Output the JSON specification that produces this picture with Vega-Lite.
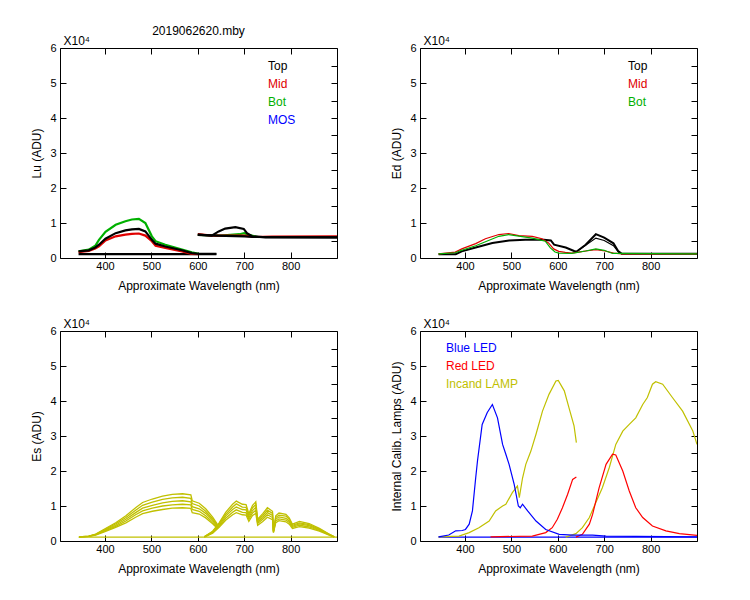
{
  "$schema": "https://vega.github.io/schema/vega-lite/v6.json",
  "background": "white",
  "padding": {"left": 30, "top": 24, "right": 5, "bottom": 5},
  "config": {
    "font": "Liberation Sans",
    "view": {"stroke": "black", "strokeWidth": 1},
    "axis": {"grid": false, "domain": false, "tickColor": "black", "tickWidth": 1, "labelColor": "black", "titleColor": "black", "labelFontSize": 11, "titleFontSize": 12, "titleFontWeight": "normal", "labelFont": "Liberation Sans", "titleFont": "Liberation Sans", "labelOverlap": false, "labelFlush": false},
    "legend": {"orient": "none", "title": null, "symbolSize": 0, "symbolStrokeWidth": 0, "symbolOpacity": 0, "labelOffset": 0, "labelFontSize": 12, "rowPadding": 6, "padding": 0, "labelFont": "Liberation Sans"},
    "title": {"fontSize": 12, "fontWeight": "normal", "font": "Liberation Sans", "color": "black"}
  },
  "datasets": {
    "lu": [
      {"w":343,"v":0.11,"s":"Top","k":"tb"},{"w":640,"v":0.11,"s":"Top","k":"tb"},
      {"w":343,"v":0.19,"s":"Bot","k":"b1"},{"w":365,"v":0.24,"s":"Bot","k":"b1"},{"w":379,"v":0.35,"s":"Bot","k":"b1"},{"w":387,"v":0.52,"s":"Bot","k":"b1"},{"w":401,"v":0.75,"s":"Bot","k":"b1"},{"w":423,"v":0.95,"s":"Bot","k":"b1"},{"w":444,"v":1.05,"s":"Bot","k":"b1"},{"w":458,"v":1.1,"s":"Bot","k":"b1"},{"w":473,"v":1.12,"s":"Bot","k":"b1"},{"w":487,"v":1.0,"s":"Bot","k":"b1"},{"w":501,"v":0.62,"s":"Bot","k":"b1"},{"w":509,"v":0.48,"s":"Bot","k":"b1"},{"w":530,"v":0.38,"s":"Bot","k":"b1"},{"w":566,"v":0.24,"s":"Bot","k":"b1"},{"w":587,"v":0.16,"s":"Bot","k":"b1"},{"w":602,"v":0.12,"s":"Bot","k":"b1"},
      {"w":343,"v":0.17,"s":"Mid","k":"m1"},{"w":365,"v":0.2,"s":"Mid","k":"m1"},{"w":379,"v":0.27,"s":"Mid","k":"m1"},{"w":387,"v":0.33,"s":"Mid","k":"m1"},{"w":401,"v":0.5,"s":"Mid","k":"m1"},{"w":423,"v":0.62,"s":"Mid","k":"m1"},{"w":444,"v":0.67,"s":"Mid","k":"m1"},{"w":458,"v":0.69,"s":"Mid","k":"m1"},{"w":473,"v":0.7,"s":"Mid","k":"m1"},{"w":487,"v":0.64,"s":"Mid","k":"m1"},{"w":501,"v":0.48,"s":"Mid","k":"m1"},{"w":509,"v":0.35,"s":"Mid","k":"m1"},{"w":530,"v":0.29,"s":"Mid","k":"m1"},{"w":566,"v":0.19,"s":"Mid","k":"m1"},{"w":587,"v":0.12,"s":"Mid","k":"m1"},{"w":602,"v":0.11,"s":"Mid","k":"m1"},
      {"w":343,"v":0.19,"s":"Top","k":"t1"},{"w":365,"v":0.22,"s":"Top","k":"t1"},{"w":379,"v":0.3,"s":"Top","k":"t1"},{"w":387,"v":0.38,"s":"Top","k":"t1"},{"w":401,"v":0.55,"s":"Top","k":"t1"},{"w":423,"v":0.71,"s":"Top","k":"t1"},{"w":444,"v":0.79,"s":"Top","k":"t1"},{"w":458,"v":0.82,"s":"Top","k":"t1"},{"w":473,"v":0.83,"s":"Top","k":"t1"},{"w":487,"v":0.76,"s":"Top","k":"t1"},{"w":501,"v":0.52,"s":"Top","k":"t1"},{"w":509,"v":0.41,"s":"Top","k":"t1"},{"w":530,"v":0.33,"s":"Top","k":"t1"},{"w":566,"v":0.22,"s":"Top","k":"t1"},{"w":587,"v":0.14,"s":"Top","k":"t1"},{"w":602,"v":0.12,"s":"Top","k":"t1"},{"w":640,"v":0.12,"s":"Top","k":"t1"},
      {"w":600,"v":0.66,"s":"Bot","k":"b2"},{"w":650,"v":0.64,"s":"Bot","k":"b2"},{"w":690,"v":0.68,"s":"Bot","k":"b2"},{"w":700,"v":0.71,"s":"Bot","k":"b2"},{"w":710,"v":0.66,"s":"Bot","k":"b2"},{"w":730,"v":0.6,"s":"Bot","k":"b2"},{"w":900,"v":0.6,"s":"Bot","k":"b2"},
      {"w":600,"v":0.68,"s":"Mid","k":"m2"},{"w":630,"v":0.64,"s":"Mid","k":"m2"},{"w":700,"v":0.64,"s":"Mid","k":"m2"},{"w":720,"v":0.6,"s":"Mid","k":"m2"},{"w":760,"v":0.61,"s":"Mid","k":"m2"},{"w":900,"v":0.62,"s":"Mid","k":"m2"},
      {"w":600,"v":0.66,"s":"Top","k":"t3"},{"w":640,"v":0.64,"s":"Top","k":"t3"},{"w":700,"v":0.62,"s":"Top","k":"t3"},{"w":720,"v":0.6,"s":"Top","k":"t3"},{"w":900,"v":0.59,"s":"Top","k":"t3"},
      {"w":600,"v":0.67,"s":"Top","k":"t2"},{"w":630,"v":0.64,"s":"Top","k":"t2"},{"w":645,"v":0.76,"s":"Top","k":"t2"},{"w":659,"v":0.84,"s":"Top","k":"t2"},{"w":681,"v":0.88,"s":"Top","k":"t2"},{"w":699,"v":0.83,"s":"Top","k":"t2"},{"w":706,"v":0.71,"s":"Top","k":"t2"},{"w":717,"v":0.62,"s":"Top","k":"t2"},{"w":746,"v":0.59,"s":"Top","k":"t2"},{"w":900,"v":0.59,"s":"Top","k":"t2"}
    ],
    "ed": [
      {"w":343,"v":0.11,"s":"Top","k":"t1"},{"w":380,"v":0.11,"s":"Top","k":"t1"},{"w":393,"v":0.19,"s":"Top","k":"t1"},{"w":423,"v":0.3,"s":"Top","k":"t1"},{"w":459,"v":0.43,"s":"Top","k":"t1"},{"w":495,"v":0.5,"s":"Top","k":"t1"},{"w":530,"v":0.52,"s":"Top","k":"t1"},{"w":570,"v":0.52,"s":"Top","k":"t1"},{"w":585,"v":0.5,"s":"Top","k":"t1"},{"w":592,"v":0.38,"s":"Top","k":"t1"},{"w":617,"v":0.3,"s":"Top","k":"t1"},{"w":635,"v":0.2,"s":"Top","k":"t1"},{"w":640,"v":0.18,"s":"Top","k":"t1"},{"w":660,"v":0.38,"s":"Top","k":"t1"},{"w":682,"v":0.68,"s":"Top","k":"t1"},{"w":700,"v":0.58,"s":"Top","k":"t1"},{"w":720,"v":0.42,"s":"Top","k":"t1"},{"w":730,"v":0.2,"s":"Top","k":"t1"},{"w":738,"v":0.12,"s":"Top","k":"t1"},{"w":900,"v":0.12,"s":"Top","k":"t1"},
      {"w":640,"v":0.18,"s":"Top","k":"t2"},{"w":682,"v":0.57,"s":"Top","k":"t2"},{"w":700,"v":0.5,"s":"Top","k":"t2"},{"w":720,"v":0.35,"s":"Top","k":"t2"},{"w":732,"v":0.15,"s":"Top","k":"t2"},{"w":738,"v":0.12,"s":"Top","k":"t2"},
      {"w":343,"v":0.12,"s":"Mid","k":"m1"},{"w":379,"v":0.17,"s":"Mid","k":"m1"},{"w":393,"v":0.26,"s":"Mid","k":"m1"},{"w":423,"v":0.41,"s":"Mid","k":"m1"},{"w":444,"v":0.55,"s":"Mid","k":"m1"},{"w":473,"v":0.67,"s":"Mid","k":"m1"},{"w":494,"v":0.7,"s":"Mid","k":"m1"},{"w":516,"v":0.64,"s":"Mid","k":"m1"},{"w":545,"v":0.62,"s":"Mid","k":"m1"},{"w":566,"v":0.55,"s":"Mid","k":"m1"},{"w":580,"v":0.43,"s":"Mid","k":"m1"},{"w":591,"v":0.26,"s":"Mid","k":"m1"},{"w":602,"v":0.19,"s":"Mid","k":"m1"},{"w":616,"v":0.16,"s":"Mid","k":"m1"},{"w":630,"v":0.14,"s":"Mid","k":"m1"},{"w":645,"v":0.17,"s":"Mid","k":"m1"},{"w":660,"v":0.2,"s":"Mid","k":"m1"},{"w":682,"v":0.24,"s":"Mid","k":"m1"},{"w":702,"v":0.2,"s":"Mid","k":"m1"},{"w":720,"v":0.14,"s":"Mid","k":"m1"},{"w":740,"v":0.12,"s":"Mid","k":"m1"},{"w":900,"v":0.12,"s":"Mid","k":"m1"},
      {"w":343,"v":0.12,"s":"Bot","k":"b1"},{"w":379,"v":0.15,"s":"Bot","k":"b1"},{"w":393,"v":0.22,"s":"Bot","k":"b1"},{"w":423,"v":0.35,"s":"Bot","k":"b1"},{"w":473,"v":0.62,"s":"Bot","k":"b1"},{"w":494,"v":0.67,"s":"Bot","k":"b1"},{"w":545,"v":0.57,"s":"Bot","k":"b1"},{"w":573,"v":0.48,"s":"Bot","k":"b1"},{"w":584,"v":0.29,"s":"Bot","k":"b1"},{"w":594,"v":0.17,"s":"Bot","k":"b1"},{"w":602,"v":0.14,"s":"Bot","k":"b1"},{"w":630,"v":0.13,"s":"Bot","k":"b1"},{"w":660,"v":0.2,"s":"Bot","k":"b1"},{"w":682,"v":0.26,"s":"Bot","k":"b1"},{"w":700,"v":0.22,"s":"Bot","k":"b1"},{"w":718,"v":0.13,"s":"Bot","k":"b1"},{"w":900,"v":0.12,"s":"Bot","k":"b1"}
    ],
    "es": [
      {"w":343,"v":0.11,"k":"base"},{"w":900,"v":0.11,"k":"base"},
      {"w":344,"v":0.12,"k":"a1"},{"w":365,"v":0.14,"k":"a1"},{"w":380,"v":0.2,"k":"a1"},{"w":400,"v":0.35,"k":"a1"},{"w":423,"v":0.52,"k":"a1"},{"w":445,"v":0.72,"k":"a1"},{"w":466,"v":0.95,"k":"a1"},{"w":481,"v":1.1,"k":"a1"},{"w":502,"v":1.2,"k":"a1"},{"w":524,"v":1.28,"k":"a1"},{"w":545,"v":1.33,"k":"a1"},{"w":567,"v":1.35,"k":"a1"},{"w":585,"v":1.32,"k":"a1"},{"w":588,"v":1.15,"k":"a1"},{"w":603,"v":1.08,"k":"a1"},{"w":617,"v":0.92,"k":"a1"},{"w":632,"v":0.68,"k":"a1"},{"w":642,"v":0.48,"k":"a1"},
      {"w":344,"v":0.12,"k":"a2"},{"w":365,"v":0.14,"k":"a2"},{"w":380,"v":0.19,"k":"a2"},{"w":400,"v":0.33,"k":"a2"},{"w":423,"v":0.49,"k":"a2"},{"w":445,"v":0.67,"k":"a2"},{"w":466,"v":0.88,"k":"a2"},{"w":481,"v":1.02,"k":"a2"},{"w":502,"v":1.11,"k":"a2"},{"w":524,"v":1.19,"k":"a2"},{"w":545,"v":1.23,"k":"a2"},{"w":567,"v":1.25,"k":"a2"},{"w":585,"v":1.22,"k":"a2"},{"w":588,"v":1.07,"k":"a2"},{"w":603,"v":1.0,"k":"a2"},{"w":617,"v":0.85,"k":"a2"},{"w":632,"v":0.63,"k":"a2"},{"w":642,"v":0.45,"k":"a2"},
      {"w":344,"v":0.12,"k":"a3"},{"w":365,"v":0.13,"k":"a3"},{"w":380,"v":0.18,"k":"a3"},{"w":400,"v":0.31,"k":"a3"},{"w":423,"v":0.45,"k":"a3"},{"w":445,"v":0.62,"k":"a3"},{"w":466,"v":0.81,"k":"a3"},{"w":481,"v":0.94,"k":"a3"},{"w":502,"v":1.02,"k":"a3"},{"w":524,"v":1.09,"k":"a3"},{"w":545,"v":1.13,"k":"a3"},{"w":567,"v":1.15,"k":"a3"},{"w":585,"v":1.12,"k":"a3"},{"w":588,"v":0.98,"k":"a3"},{"w":603,"v":0.92,"k":"a3"},{"w":617,"v":0.79,"k":"a3"},{"w":632,"v":0.59,"k":"a3"},{"w":642,"v":0.42,"k":"a3"},
      {"w":344,"v":0.12,"k":"a4"},{"w":365,"v":0.13,"k":"a4"},{"w":380,"v":0.18,"k":"a4"},{"w":400,"v":0.29,"k":"a4"},{"w":423,"v":0.42,"k":"a4"},{"w":445,"v":0.57,"k":"a4"},{"w":466,"v":0.75,"k":"a4"},{"w":481,"v":0.86,"k":"a4"},{"w":502,"v":0.94,"k":"a4"},{"w":524,"v":1.0,"k":"a4"},{"w":545,"v":1.03,"k":"a4"},{"w":567,"v":1.05,"k":"a4"},{"w":585,"v":1.03,"k":"a4"},{"w":588,"v":0.9,"k":"a4"},{"w":603,"v":0.85,"k":"a4"},{"w":617,"v":0.72,"k":"a4"},{"w":632,"v":0.54,"k":"a4"},{"w":642,"v":0.39,"k":"a4"},
      {"w":344,"v":0.11,"k":"a5"},{"w":365,"v":0.13,"k":"a5"},{"w":380,"v":0.17,"k":"a5"},{"w":400,"v":0.27,"k":"a5"},{"w":423,"v":0.39,"k":"a5"},{"w":445,"v":0.52,"k":"a5"},{"w":466,"v":0.68,"k":"a5"},{"w":481,"v":0.78,"k":"a5"},{"w":502,"v":0.85,"k":"a5"},{"w":524,"v":0.9,"k":"a5"},{"w":545,"v":0.94,"k":"a5"},{"w":567,"v":0.95,"k":"a5"},{"w":585,"v":0.93,"k":"a5"},{"w":588,"v":0.81,"k":"a5"},{"w":603,"v":0.77,"k":"a5"},{"w":617,"v":0.66,"k":"a5"},{"w":632,"v":0.49,"k":"a5"},{"w":642,"v":0.36,"k":"a5"},
      {"w":614,"v":0.12,"k":"c1"},{"w":632,"v":0.28,"k":"c1"},{"w":646,"v":0.52,"k":"c1"},{"w":660,"v":0.82,"k":"c1"},{"w":675,"v":1.05,"k":"c1"},{"w":683,"v":1.14,"k":"c1"},{"w":696,"v":1.05,"k":"c1"},{"w":704,"v":1.04,"k":"c1"},{"w":710,"v":0.78,"k":"c1"},{"w":718,"v":1.02,"k":"c1"},{"w":725,"v":1.12,"k":"c1"},{"w":729,"v":0.62,"k":"c1"},{"w":740,"v":0.78,"k":"c1"},{"w":750,"v":0.95,"k":"c1"},{"w":761,"v":0.85,"k":"c1"},{"w":763,"v":0.3,"k":"c1"},{"w":768,"v":0.72,"k":"c1"},{"w":775,"v":0.8,"k":"c1"},{"w":790,"v":0.76,"k":"c1"},{"w":797,"v":0.66,"k":"c1"},{"w":804,"v":0.48,"k":"c1"},{"w":819,"v":0.56,"k":"c1"},{"w":840,"v":0.5,"k":"c1"},{"w":862,"v":0.36,"k":"c1"},{"w":883,"v":0.2,"k":"c1"},{"w":894,"v":0.12,"k":"c1"},
      {"w":614,"v":0.12,"k":"c2"},{"w":632,"v":0.27,"k":"c2"},{"w":646,"v":0.49,"k":"c2"},{"w":660,"v":0.76,"k":"c2"},{"w":675,"v":0.97,"k":"c2"},{"w":683,"v":1.06,"k":"c2"},{"w":696,"v":0.97,"k":"c2"},{"w":704,"v":0.96,"k":"c2"},{"w":710,"v":0.73,"k":"c2"},{"w":718,"v":0.95,"k":"c2"},{"w":725,"v":1.04,"k":"c2"},{"w":729,"v":0.58,"k":"c2"},{"w":740,"v":0.73,"k":"c2"},{"w":750,"v":0.88,"k":"c2"},{"w":761,"v":0.79,"k":"c2"},{"w":763,"v":0.28,"k":"c2"},{"w":768,"v":0.67,"k":"c2"},{"w":775,"v":0.74,"k":"c2"},{"w":790,"v":0.71,"k":"c2"},{"w":797,"v":0.62,"k":"c2"},{"w":804,"v":0.45,"k":"c2"},{"w":819,"v":0.52,"k":"c2"},{"w":840,"v":0.47,"k":"c2"},{"w":862,"v":0.34,"k":"c2"},{"w":883,"v":0.19,"k":"c2"},{"w":894,"v":0.12,"k":"c2"},
      {"w":614,"v":0.12,"k":"c3"},{"w":632,"v":0.25,"k":"c3"},{"w":646,"v":0.45,"k":"c3"},{"w":660,"v":0.71,"k":"c3"},{"w":675,"v":0.9,"k":"c3"},{"w":683,"v":0.97,"k":"c3"},{"w":696,"v":0.9,"k":"c3"},{"w":704,"v":0.89,"k":"c3"},{"w":710,"v":0.67,"k":"c3"},{"w":718,"v":0.87,"k":"c3"},{"w":725,"v":0.96,"k":"c3"},{"w":729,"v":0.54,"k":"c3"},{"w":740,"v":0.67,"k":"c3"},{"w":750,"v":0.81,"k":"c3"},{"w":761,"v":0.73,"k":"c3"},{"w":763,"v":0.27,"k":"c3"},{"w":768,"v":0.62,"k":"c3"},{"w":775,"v":0.69,"k":"c3"},{"w":790,"v":0.65,"k":"c3"},{"w":797,"v":0.57,"k":"c3"},{"w":804,"v":0.42,"k":"c3"},{"w":819,"v":0.49,"k":"c3"},{"w":840,"v":0.44,"k":"c3"},{"w":862,"v":0.32,"k":"c3"},{"w":883,"v":0.18,"k":"c3"},{"w":894,"v":0.12,"k":"c3"},
      {"w":614,"v":0.12,"k":"c4"},{"w":632,"v":0.24,"k":"c4"},{"w":646,"v":0.42,"k":"c4"},{"w":660,"v":0.65,"k":"c4"},{"w":675,"v":0.82,"k":"c4"},{"w":683,"v":0.89,"k":"c4"},{"w":696,"v":0.82,"k":"c4"},{"w":704,"v":0.81,"k":"c4"},{"w":710,"v":0.62,"k":"c4"},{"w":718,"v":0.8,"k":"c4"},{"w":725,"v":0.88,"k":"c4"},{"w":729,"v":0.5,"k":"c4"},{"w":740,"v":0.62,"k":"c4"},{"w":750,"v":0.75,"k":"c4"},{"w":761,"v":0.67,"k":"c4"},{"w":763,"v":0.25,"k":"c4"},{"w":768,"v":0.57,"k":"c4"},{"w":775,"v":0.63,"k":"c4"},{"w":790,"v":0.6,"k":"c4"},{"w":797,"v":0.53,"k":"c4"},{"w":804,"v":0.39,"k":"c4"},{"w":819,"v":0.45,"k":"c4"},{"w":840,"v":0.4,"k":"c4"},{"w":862,"v":0.3,"k":"c4"},{"w":883,"v":0.18,"k":"c4"},{"w":894,"v":0.12,"k":"c4"},
      {"w":614,"v":0.11,"k":"c5"},{"w":632,"v":0.22,"k":"c5"},{"w":646,"v":0.39,"k":"c5"},{"w":660,"v":0.59,"k":"c5"},{"w":675,"v":0.75,"k":"c5"},{"w":683,"v":0.81,"k":"c5"},{"w":696,"v":0.75,"k":"c5"},{"w":704,"v":0.74,"k":"c5"},{"w":710,"v":0.56,"k":"c5"},{"w":718,"v":0.73,"k":"c5"},{"w":725,"v":0.79,"k":"c5"},{"w":729,"v":0.45,"k":"c5"},{"w":740,"v":0.56,"k":"c5"},{"w":750,"v":0.68,"k":"c5"},{"w":761,"v":0.61,"k":"c5"},{"w":763,"v":0.24,"k":"c5"},{"w":768,"v":0.52,"k":"c5"},{"w":775,"v":0.58,"k":"c5"},{"w":790,"v":0.55,"k":"c5"},{"w":797,"v":0.48,"k":"c5"},{"w":804,"v":0.36,"k":"c5"},{"w":819,"v":0.41,"k":"c5"},{"w":840,"v":0.37,"k":"c5"},{"w":862,"v":0.28,"k":"c5"},{"w":883,"v":0.17,"k":"c5"},{"w":894,"v":0.11,"k":"c5"}
    ],
    "lamp": [
      {"w":343,"v":0.11,"s":"Blue LED","k":"bb"},{"w":900,"v":0.11,"s":"Blue LED","k":"bb"},
      {"w":343,"v":0.12,"s":"Incand LAMP","k":"i1"},{"w":387,"v":0.14,"s":"Incand LAMP","k":"i1"},{"w":409,"v":0.24,"s":"Incand LAMP","k":"i1"},{"w":430,"v":0.38,"s":"Incand LAMP","k":"i1"},{"w":452,"v":0.57,"s":"Incand LAMP","k":"i1"},{"w":466,"v":0.86,"s":"Incand LAMP","k":"i1"},{"w":481,"v":1.0,"s":"Incand LAMP","k":"i1"},{"w":488,"v":1.05,"s":"Incand LAMP","k":"i1"},{"w":502,"v":1.38,"s":"Incand LAMP","k":"i1"},{"w":513,"v":1.57,"s":"Incand LAMP","k":"i1"},{"w":517,"v":1.24,"s":"Incand LAMP","k":"i1"},{"w":524,"v":1.8,"s":"Incand LAMP","k":"i1"},{"w":531,"v":2.19,"s":"Incand LAMP","k":"i1"},{"w":542,"v":2.57,"s":"Incand LAMP","k":"i1"},{"w":553,"v":3.05,"s":"Incand LAMP","k":"i1"},{"w":567,"v":3.71,"s":"Incand LAMP","k":"i1"},{"w":581,"v":4.19,"s":"Incand LAMP","k":"i1"},{"w":596,"v":4.57,"s":"Incand LAMP","k":"i1"},{"w":601,"v":4.59,"s":"Incand LAMP","k":"i1"},{"w":614,"v":4.29,"s":"Incand LAMP","k":"i1"},{"w":624,"v":3.81,"s":"Incand LAMP","k":"i1"},{"w":635,"v":3.29,"s":"Incand LAMP","k":"i1"},{"w":640,"v":2.81,"s":"Incand LAMP","k":"i1"},
      {"w":617,"v":0.11,"s":"Incand LAMP","k":"i2"},{"w":639,"v":0.21,"s":"Incand LAMP","k":"i2"},{"w":653,"v":0.38,"s":"Incand LAMP","k":"i2"},{"w":668,"v":0.67,"s":"Incand LAMP","k":"i2"},{"w":682,"v":1.1,"s":"Incand LAMP","k":"i2"},{"w":696,"v":1.52,"s":"Incand LAMP","k":"i2"},{"w":711,"v":2.1,"s":"Incand LAMP","k":"i2"},{"w":725,"v":2.76,"s":"Incand LAMP","k":"i2"},{"w":740,"v":3.14,"s":"Incand LAMP","k":"i2"},{"w":754,"v":3.33,"s":"Incand LAMP","k":"i2"},{"w":768,"v":3.52,"s":"Incand LAMP","k":"i2"},{"w":783,"v":3.9,"s":"Incand LAMP","k":"i2"},{"w":793,"v":4.1,"s":"Incand LAMP","k":"i2"},{"w":804,"v":4.48,"s":"Incand LAMP","k":"i2"},{"w":811,"v":4.55,"s":"Incand LAMP","k":"i2"},{"w":826,"v":4.48,"s":"Incand LAMP","k":"i2"},{"w":847,"v":4.1,"s":"Incand LAMP","k":"i2"},{"w":869,"v":3.71,"s":"Incand LAMP","k":"i2"},{"w":891,"v":3.14,"s":"Incand LAMP","k":"i2"},{"w":900,"v":2.76,"s":"Incand LAMP","k":"i2"},
      {"w":455,"v":0.12,"s":"Red LED","k":"r1"},{"w":545,"v":0.14,"s":"Red LED","k":"r1"},{"w":574,"v":0.24,"s":"Red LED","k":"r1"},{"w":588,"v":0.38,"s":"Red LED","k":"r1"},{"w":599,"v":0.62,"s":"Red LED","k":"r1"},{"w":610,"v":0.95,"s":"Red LED","k":"r1"},{"w":621,"v":1.33,"s":"Red LED","k":"r1"},{"w":632,"v":1.76,"s":"Red LED","k":"r1"},{"w":640,"v":1.83,"s":"Red LED","k":"r1"},
      {"w":639,"v":0.11,"s":"Red LED","k":"r2"},{"w":653,"v":0.19,"s":"Red LED","k":"r2"},{"w":668,"v":0.48,"s":"Red LED","k":"r2"},{"w":675,"v":0.76,"s":"Red LED","k":"r2"},{"w":689,"v":1.52,"s":"Red LED","k":"r2"},{"w":704,"v":2.19,"s":"Red LED","k":"r2"},{"w":718,"v":2.48,"s":"Red LED","k":"r2"},{"w":725,"v":2.46,"s":"Red LED","k":"r2"},{"w":740,"v":2.0,"s":"Red LED","k":"r2"},{"w":754,"v":1.43,"s":"Red LED","k":"r2"},{"w":768,"v":0.95,"s":"Red LED","k":"r2"},{"w":783,"v":0.67,"s":"Red LED","k":"r2"},{"w":804,"v":0.43,"s":"Red LED","k":"r2"},{"w":833,"v":0.29,"s":"Red LED","k":"r2"},{"w":862,"v":0.21,"s":"Red LED","k":"r2"},{"w":900,"v":0.16,"s":"Red LED","k":"r2"},
      {"w":343,"v":0.12,"s":"Blue LED","k":"b1"},{"w":365,"v":0.17,"s":"Blue LED","k":"b1"},{"w":380,"v":0.29,"s":"Blue LED","k":"b1"},{"w":394,"v":0.3,"s":"Blue LED","k":"b1"},{"w":401,"v":0.33,"s":"Blue LED","k":"b1"},{"w":409,"v":0.48,"s":"Blue LED","k":"b1"},{"w":416,"v":0.86,"s":"Blue LED","k":"b1"},{"w":423,"v":1.8,"s":"Blue LED","k":"b1"},{"w":427,"v":2.3,"s":"Blue LED","k":"b1"},{"w":437,"v":3.33,"s":"Blue LED","k":"b1"},{"w":448,"v":3.67,"s":"Blue LED","k":"b1"},{"w":459,"v":3.9,"s":"Blue LED","k":"b1"},{"w":470,"v":3.52,"s":"Blue LED","k":"b1"},{"w":481,"v":2.76,"s":"Blue LED","k":"b1"},{"w":488,"v":2.48,"s":"Blue LED","k":"b1"},{"w":495,"v":2.19,"s":"Blue LED","k":"b1"},{"w":506,"v":1.62,"s":"Blue LED","k":"b1"},{"w":515,"v":1.0,"s":"Blue LED","k":"b1"},{"w":519,"v":0.95,"s":"Blue LED","k":"b1"},{"w":524,"v":1.05,"s":"Blue LED","k":"b1"},{"w":535,"v":0.86,"s":"Blue LED","k":"b1"},{"w":553,"v":0.57,"s":"Blue LED","k":"b1"},{"w":574,"v":0.33,"s":"Blue LED","k":"b1"},{"w":603,"v":0.19,"s":"Blue LED","k":"b1"},{"w":632,"v":0.17,"s":"Blue LED","k":"b1"},{"w":675,"v":0.17,"s":"Blue LED","k":"b1"},{"w":704,"v":0.14,"s":"Blue LED","k":"b1"},{"w":900,"v":0.12,"s":"Blue LED","k":"b1"}
    ]
  },
  "columns": 2,
  "spacing": {"row": 73, "column": 83},
  "bounds": "flush",
  "resolve": {"scale": {"color": "independent", "x": "independent", "y": "independent"}, "legend": {"color": "independent"}},
  "concat": [
    {
      "width": 277, "height": 210,
      "title": {"text": "2019062620.mby", "frame": "group", "anchor": "middle", "offset": -4},
      "data": {"name": "lu"},
      "layer": [
        {
          "mark": {"type": "line", "strokeWidth": 2.2, "clip": true},
          "encoding": {
            "x": {"field": "w", "type": "quantitative", "scale": {"domain": [303, 900], "nice": false, "zero": false}, "axis": {"values": [400, 500, 600, 700, 800], "title": "Approximate Wavelength (nm)", "tickSize": -6, "labelPadding": 8, "titlePadding": 9, "format": "d"}},
            "y": {"field": "v", "type": "quantitative", "scale": {"domain": [0, 6], "nice": false}, "axis": {"values": [0, 0.5, 1, 1.5, 2, 2.5, 3, 3.5, 4, 4.5, 5, 5.5, 6], "labelExpr": "datum.value % 1 === 0 ? datum.label : ''", "tickSize": -6, "labelPadding": 10, "titlePadding": 6, "title": "Lu (ADU)", "format": "d"}},
            "color": {"field": "s", "type": "nominal", "scale": {"domain": ["Top", "Mid", "Bot", "MOS"], "range": ["#000000", "#e00000", "#00b000", "#0000ff"]},
              "legend": {"legendX": 196, "legendY": 12, "encode": {"labels": {"update": {"fill": [{"test": "datum.value === 'Top'", "value": "#000000"}, {"test": "datum.value === 'Mid'", "value": "#e00000"}, {"test": "datum.value === 'Bot'", "value": "#00b000"}, {"value": "#0000ff"}]}}}}},
            "detail": {"field": "k"}
          }
        },
        {
          "mark": {"type": "line", "strokeOpacity": 0},
          "encoding": {
            "x": {"field": "w", "type": "quantitative", "axis": {"orient": "top", "values": [400, 500, 600, 700, 800], "labels": false, "tickSize": -6, "title": "X10⁴", "titleX": 3, "titleY": -4, "titleAlign": "left", "titleBaseline": "alphabetic", "titleAngle": 0}},
            "y": {"field": "v", "type": "quantitative", "axis": {"orient": "right", "values": [0, 0.5, 1, 1.5, 2, 2.5, 3, 3.5, 4, 4.5, 5, 5.5, 6], "labels": false, "tickSize": -6, "title": null}},
            "detail": {"field": "k"}
          }
        }
      ],
      "resolve": {"axis": {"x": "independent", "y": "independent"}}
    },
    {
      "width": 277, "height": 210,
      "data": {"name": "ed"},
      "layer": [
        {
          "mark": {"type": "line", "clip": true},
          "encoding": {
            "x": {"field": "w", "type": "quantitative", "scale": {"domain": [303, 900], "nice": false, "zero": false}, "axis": {"values": [400, 500, 600, 700, 800], "title": "Approximate Wavelength (nm)", "tickSize": -6, "labelPadding": 8, "titlePadding": 9, "format": "d"}},
            "y": {"field": "v", "type": "quantitative", "scale": {"domain": [0, 6], "nice": false}, "axis": {"values": [0, 0.5, 1, 1.5, 2, 2.5, 3, 3.5, 4, 4.5, 5, 5.5, 6], "labelExpr": "datum.value % 1 === 0 ? datum.label : ''", "tickSize": -6, "labelPadding": 10, "titlePadding": 6, "title": "Ed  (ADU)", "format": "d"}},
            "color": {"field": "s", "type": "nominal", "scale": {"domain": ["Top", "Mid", "Bot"], "range": ["#000000", "#e00000", "#00b000"]},
              "legend": {"legendX": 196, "legendY": 12, "encode": {"labels": {"update": {"fill": [{"test": "datum.value === 'Top'", "value": "#000000"}, {"test": "datum.value === 'Mid'", "value": "#e00000"}, {"value": "#00b000"}]}}}}},
            "strokeWidth": {"condition": {"test": "datum.k === 't1'", "value": 2}, "value": 1.2},
            "detail": {"field": "k"}
          }
        },
        {
          "mark": {"type": "line", "strokeOpacity": 0},
          "encoding": {
            "x": {"field": "w", "type": "quantitative", "axis": {"orient": "top", "values": [400, 500, 600, 700, 800], "labels": false, "tickSize": -6, "title": "X10⁴", "titleX": 3, "titleY": -4, "titleAlign": "left", "titleBaseline": "alphabetic", "titleAngle": 0}},
            "y": {"field": "v", "type": "quantitative", "axis": {"orient": "right", "values": [0, 0.5, 1, 1.5, 2, 2.5, 3, 3.5, 4, 4.5, 5, 5.5, 6], "labels": false, "tickSize": -6, "title": null}},
            "detail": {"field": "k"}
          }
        }
      ],
      "resolve": {"axis": {"x": "independent", "y": "independent"}}
    },
    {
      "width": 277, "height": 210,
      "data": {"name": "es"},
      "layer": [
        {
          "mark": {"type": "line", "clip": true, "color": "#c0c000", "strokeWidth": 1.3},
          "encoding": {
            "x": {"field": "w", "type": "quantitative", "scale": {"domain": [303, 900], "nice": false, "zero": false}, "axis": {"values": [400, 500, 600, 700, 800], "title": "Approximate Wavelength (nm)", "tickSize": -6, "labelPadding": 8, "titlePadding": 9, "format": "d"}},
            "y": {"field": "v", "type": "quantitative", "scale": {"domain": [0, 6], "nice": false}, "axis": {"values": [0, 0.5, 1, 1.5, 2, 2.5, 3, 3.5, 4, 4.5, 5, 5.5, 6], "labelExpr": "datum.value % 1 === 0 ? datum.label : ''", "tickSize": -6, "labelPadding": 10, "titlePadding": 6, "title": "Es  (ADU)", "format": "d"}},
            "detail": {"field": "k"}
          }
        },
        {
          "mark": {"type": "line", "strokeOpacity": 0},
          "encoding": {
            "x": {"field": "w", "type": "quantitative", "axis": {"orient": "top", "values": [400, 500, 600, 700, 800], "labels": false, "tickSize": -6, "title": "X10⁴", "titleX": 3, "titleY": -4, "titleAlign": "left", "titleBaseline": "alphabetic", "titleAngle": 0}},
            "y": {"field": "v", "type": "quantitative", "axis": {"orient": "right", "values": [0, 0.5, 1, 1.5, 2, 2.5, 3, 3.5, 4, 4.5, 5, 5.5, 6], "labels": false, "tickSize": -6, "title": null}},
            "detail": {"field": "k"}
          }
        }
      ],
      "resolve": {"axis": {"x": "independent", "y": "independent"}}
    },
    {
      "width": 277, "height": 210,
      "data": {"name": "lamp"},
      "layer": [
        {
          "mark": {"type": "line", "clip": true, "strokeWidth": 1.2},
          "encoding": {
            "x": {"field": "w", "type": "quantitative", "scale": {"domain": [303, 900], "nice": false, "zero": false}, "axis": {"values": [400, 500, 600, 700, 800], "title": "Approximate Wavelength (nm)", "tickSize": -6, "labelPadding": 8, "titlePadding": 9, "format": "d"}},
            "y": {"field": "v", "type": "quantitative", "scale": {"domain": [0, 6], "nice": false}, "axis": {"values": [0, 0.5, 1, 1.5, 2, 2.5, 3, 3.5, 4, 4.5, 5, 5.5, 6], "labelExpr": "datum.value % 1 === 0 ? datum.label : ''", "tickSize": -6, "labelPadding": 10, "titlePadding": 6, "title": "Internal Calib. Lamps (ADU)", "format": "d"}},
            "color": {"field": "s", "type": "nominal", "scale": {"domain": ["Blue LED", "Red LED", "Incand LAMP"], "range": ["#0000ff", "#ff0000", "#c0c000"]},
              "legend": {"legendX": 14, "legendY": 11, "encode": {"labels": {"update": {"fill": [{"test": "datum.value === 'Blue LED'", "value": "#0000ff"}, {"test": "datum.value === 'Red LED'", "value": "#ff0000"}, {"value": "#c0c000"}]}}}}},
            "detail": {"field": "k"}
          }
        },
        {
          "mark": {"type": "line", "strokeOpacity": 0},
          "encoding": {
            "x": {"field": "w", "type": "quantitative", "axis": {"orient": "top", "values": [400, 500, 600, 700, 800], "labels": false, "tickSize": -6, "title": "X10⁴", "titleX": 3, "titleY": -4, "titleAlign": "left", "titleBaseline": "alphabetic", "titleAngle": 0}},
            "y": {"field": "v", "type": "quantitative", "axis": {"orient": "right", "values": [0, 0.5, 1, 1.5, 2, 2.5, 3, 3.5, 4, 4.5, 5, 5.5, 6], "labels": false, "tickSize": -6, "title": null}},
            "detail": {"field": "k"}
          }
        }
      ],
      "resolve": {"axis": {"x": "independent", "y": "independent"}}
    }
  ]
}
